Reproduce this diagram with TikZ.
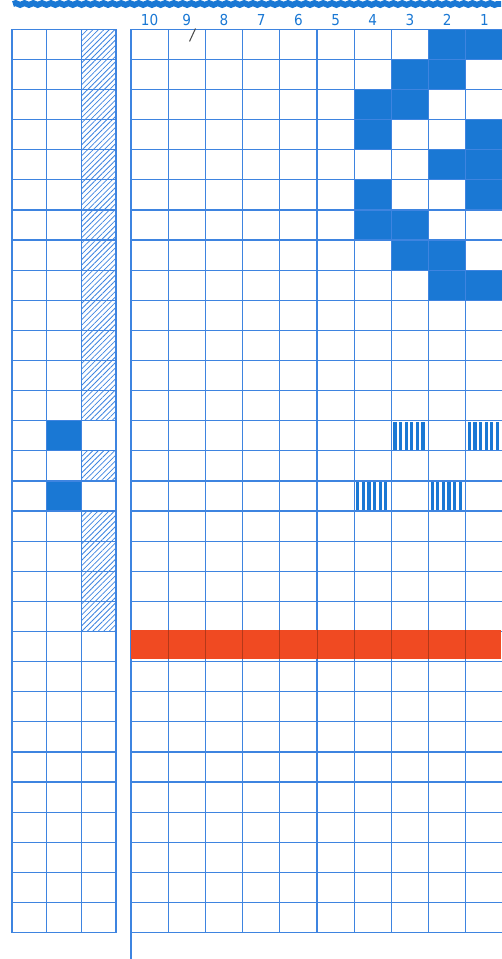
\documentclass[tikz,border=0pt]{standalone}
\usepackage{fontspec}
\newfontfamily\numfont{DejaVu Sans Condensed}
\usetikzlibrary{patterns.meta,decorations.pathmorphing}
\definecolor{gridblue}{RGB}{62,132,224}
\definecolor{fillblue}{RGB}{26,120,212}
\definecolor{bandred}{RGB}{240,74,34}

\begin{document}
\begin{tikzpicture}[
        x=0.02cm, y=-0.02cm,
        gridline/.style={gridblue, line width=0.7pt},
        hatchcell/.style={pattern={Lines[angle=45, distance=2.2pt, line width=0.45pt]}, pattern color=gridblue},
        colnum/.style={text=fillblue, font=\numfont\fontsize{8.6}{10}\selectfont, inner sep=0pt}
    ]
        \useasboundingbox (0,0) rectangle (501,959);
        \def\rh{30.11}
        \def\top{29.3}
        \def\bot{932.6}
        % left strip: 3 columns
        \def\lx{12}
        \def\lw{34.7}
        % main chart: 10 columns
        \def\mx{131}
        \def\mw{37.2}

        % blue band along the top
        \draw[fillblue, line width=3.4pt, decorate, decoration={snake, amplitude=0.5pt, segment length=5pt}] (13,4) -- (501,4);

        % column numbers
        \foreach \c in {10,...,1} {
            \node[colnum] (num\c) at ({\mx+(10.5-\c)*\mw}, 20) {\c};
        }

        % hatched and solid cells of the left strip
        \foreach \r in {0,...,12, 14, 16, 17, 18, 19} {
            \fill[hatchcell] ({\lx+2*\lw}, {\top+\r*\rh}) rectangle +(\lw, \rh);
        }
        \foreach \r in {13, 15} {
            \fill[fillblue] ({\lx+\lw}, {\top+\r*\rh}) rectangle +(\lw, \rh);
        }

        % solid cells of the main chart (row/column number)
        \foreach \r/\c in {0/2, 0/1, 1/3, 1/2, 2/4, 2/3, 3/4, 3/1, 4/2, 4/1,
                           5/4, 5/1, 6/4, 6/3, 7/3, 7/2, 8/2, 8/1} {
            \fill[fillblue] ({\mx+(10-\c)*\mw}, {\top+\r*\rh}) rectangle +(\mw, \rh);
        }

        % striped cells
        \foreach \r/\c in {13/3, 13/1, 15/4, 15/2} {
            \foreach \k in {0,...,5} {
                \fill[fillblue] ({\mx+(10-\c)*\mw+2+\k*5.6}, {\top+\r*\rh+1}) rectangle +(3.2, {\rh-2});
            }
        }

        % grid lines
        \foreach \i in {0,...,30} {
            \draw[gridline] (\lx, {\top+\i*\rh}) -- ({\lx+3*\lw}, {\top+\i*\rh});
            \draw[gridline] (\mx, {\top+\i*\rh}) -- ({\mx+10*\mw}, {\top+\i*\rh});
        }
        \foreach \j in {0,...,3} {
            \draw[gridline] ({\lx+\j*\lw}, \top) -- ({\lx+\j*\lw}, \bot);
        }
        \foreach \j in {1,...,10} {
            \draw[gridline] ({\mx+\j*\mw}, \top) -- ({\mx+\j*\mw}, \bot);
        }
        \draw[gridline] (\mx, \top) -- (\mx, 959);

        % red row
        \fill[bandred] (\mx, {\top+20*\rh-1.5}) rectangle (501, {\top+21*\rh-3});
        \foreach \j in {1,...,9} {
            \draw[bandred!75!black, line width=0.5pt] ({\mx+\j*\mw}, {\top+20*\rh-1.5}) -- ({\mx+\j*\mw}, {\top+21*\rh-3});
        }

        % pen mark by the 9
        \draw[black!70, line width=0.6pt] (189.5, 41.5) -- (195.5, 28.5);

    \end{tikzpicture}
\end{document}
